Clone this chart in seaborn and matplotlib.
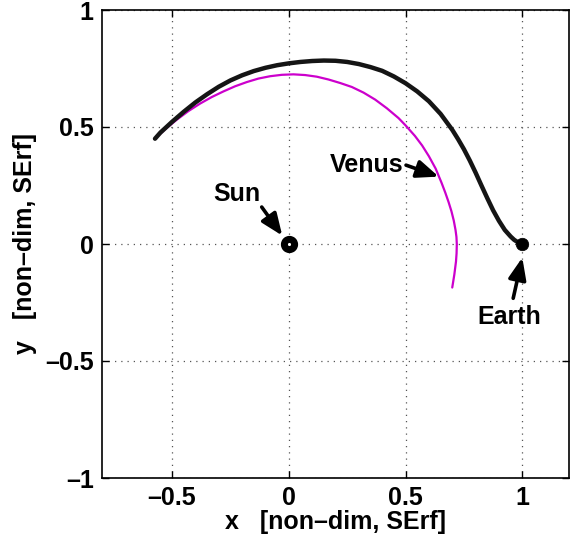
import matplotlib
matplotlib.use("Agg")
import matplotlib.pyplot as plt
import seaborn as sns
import pandas as pd

# --- data ---
traj_x = [-0.573, -0.55, -0.50, -0.45, -0.40, -0.35, -0.30, -0.25, -0.20, -0.15,
          -0.10, -0.05, 0.00, 0.05, 0.10, 0.15, 0.20, 0.25, 0.30, 0.35, 0.40,
          0.45, 0.50, 0.55, 0.60, 0.65, 0.70, 0.725, 0.75, 0.775, 0.80, 0.825,
          0.85, 0.875, 0.90, 0.925, 0.95, 0.965, 0.98, 0.99, 1.0]
traj_y = [0.450, 0.476, 0.522, 0.565, 0.605, 0.640, 0.672, 0.699, 0.721, 0.739,
          0.753, 0.764, 0.772, 0.778, 0.782, 0.784, 0.783, 0.778, 0.769, 0.756, 0.740,
          0.716, 0.687, 0.652, 0.610, 0.556, 0.488, 0.448, 0.405, 0.357, 0.305, 0.250,
          0.196, 0.144, 0.099, 0.060, 0.032, 0.018, 0.008, 0.003, 0.0]

venus_x = [-0.573, -0.53, -0.48, -0.43, -0.38, -0.33, -0.28, -0.23, -0.18, -0.13,
           -0.08, -0.03, 0.02, 0.07, 0.12, 0.17, 0.22, 0.27, 0.32, 0.37, 0.42,
           0.47, 0.50, 0.54, 0.571, 0.60, 0.629, 0.654, 0.670, 0.684, 0.6965, 0.7065,
           0.714, 0.718, 0.7195, 0.7185, 0.716, 0.709, 0.70]
venus_y = [0.450, 0.490, 0.531, 0.568, 0.600, 0.628, 0.652, 0.674, 0.692, 0.707,
           0.717, 0.723, 0.725, 0.722, 0.715, 0.703, 0.688, 0.671, 0.647, 0.617, 0.580,
           0.538, 0.507, 0.462, 0.421, 0.375, 0.322, 0.262, 0.220, 0.180, 0.140, 0.100,
           0.060, 0.030, 0.0, -0.040, -0.075, -0.130, -0.186]

sun_xy = (0.0, 0.0)
earth_xy = (1.0, 0.0)

labels = ["Sun", "Venus", "Earth"]
label_text_xy = [(-0.224, 0.215), (0.335, 0.339), (0.944, -0.313)]
arrow_tail_xy = [(-0.116, 0.158), (0.502, 0.337), (0.961, -0.232)]
arrow_head_xy = [(-0.028, 0.036), (0.642, 0.288), (1.0, -0.058)]

x_ticks = [-0.5, 0, 0.5, 1]
x_tick_labels = ["\u20130.5", "0", "0.5", "1"]
y_ticks = [-1, -0.5, 0, 0.5, 1]
y_tick_labels = ["\u20131", "\u20130.5", "0", "0.5", "1"]
x_label = "x   [non\u2013dim, SErf]"
y_label = "y   [non\u2013dim, SErf]"

# --- style ---
sns.set_theme(style="white")
plt.rcParams["font.family"] = ["Liberation Sans", "DejaVu Sans"]
plt.rcParams["font.weight"] = "bold"
plt.rcParams["text.color"] = "black"
plt.rcParams["axes.labelcolor"] = "black"
plt.rcParams["xtick.color"] = "black"
plt.rcParams["ytick.color"] = "black"
FS = 18

fig = plt.figure(figsize=(5.73, 5.44), dpi=100)
ax = fig.add_axes([102 / 573, 66 / 544, 467 / 573, 468 / 544])

traj = pd.DataFrame({"x": traj_x, "y": traj_y})
venus = pd.DataFrame({"x": venus_x, "y": venus_y})

sns.lineplot(data=venus, x="x", y="y", sort=False, estimator=None,
             color="#cc00cc", lw=1.6, ax=ax)
sns.lineplot(data=traj, x="x", y="y", sort=False, estimator=None,
             color="#151515", lw=3.2, ax=ax)
for ln in ax.get_lines():
    ln.set_solid_joinstyle("round")
    ln.set_solid_capstyle("round")

ax.plot([sun_xy[0]], [sun_xy[1]], marker="o", ms=7.4, mew=5.0,
        mfc="white", mec="black", ls="none", zorder=5)
ax.plot([earth_xy[0]], [earth_xy[1]], marker="o", ms=9, mew=0.5,
        mfc="black", mec="black", ls="none", zorder=5)

for lab, txy, ta, hd in zip(labels, label_text_xy, arrow_tail_xy, arrow_head_xy):
    ax.text(txy[0], txy[1], lab, fontsize=FS, fontweight="bold",
            ha="center", va="center", color="black")
    ax.annotate("", xy=hd, xytext=ta,
                arrowprops=dict(arrowstyle="-|>,head_length=1.1,head_width=0.45",
                                lw=2.6, color="black", shrinkA=0, shrinkB=0))

ax.set_xlim(-0.8, 1.2)
ax.set_ylim(-1, 1)
ax.set_xticks(x_ticks)
ax.set_xticklabels(x_tick_labels)
ax.set_yticks(y_ticks)
ax.set_yticklabels(y_tick_labels)
ax.set_xlabel(x_label, fontsize=FS, fontweight="bold", labelpad=0)
ax.set_ylabel(y_label, fontsize=FS, fontweight="bold", labelpad=6)

ax.grid(True, ls=(0, (1, 4)), color="#555555", lw=0.9)
ax.tick_params(direction="in", length=5, width=1, top=True, right=True,
               bottom=True, left=True, labelsize=FS, pad=6, colors="black")
for lbl in ax.get_xticklabels() + ax.get_yticklabels():
    lbl.set_fontweight("bold")
for sp in ax.spines.values():
    sp.set_color("black")
    sp.set_linewidth(1.2)

fig.savefig("out.png", dpi=100)
